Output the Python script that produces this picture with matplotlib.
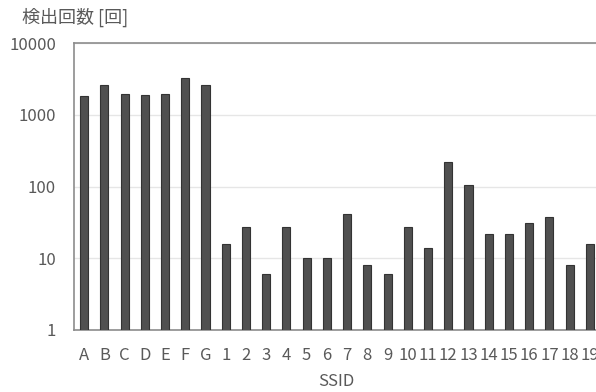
import numpy as np
import matplotlib.pyplot as plt

plt.rcParams['font.family'] = ['Noto Sans CJK JP', 'DejaVu Sans']

# SSID labels and detection counts
ssids = ['A', 'B', 'C', 'D', 'E', 'F', 'G'] + [str(i) for i in range(1, 20)]
counts = [1830, 2600, 1960, 1900, 1960, 3250, 2600,
          16, 27, 6, 27, 10, 10, 41, 8, 6, 27, 14, 220, 105, 22, 22, 31, 38, 8, 16]

fig = plt.figure(figsize=(5.96, 3.92), dpi=100)
ax = fig.add_axes([74 / 596, 1 - 330 / 392, 526 / 596, (330 - 43) / 392])

x = np.arange(len(ssids))
ax.bar(x, counts, width=0.4, color='#505050', edgecolor='#333333', linewidth=0.8, zorder=3)

ax.set_yscale('log')
ax.set_ylim(1, 10000)
ax.set_xlim(-0.5, len(ssids) - 0.5)
ax.set_yticks([1, 10, 100, 1000, 10000])
ax.set_yticklabels(['1', '10', '100', '1000', '10000'])
ax.minorticks_off()
ax.set_xticks(x)
ax.set_xticklabels(ssids)
ax.tick_params(axis='both', length=0, labelsize=12, colors='#595959')
ax.tick_params(axis='x', pad=12)
ax.tick_params(axis='y', pad=13)
ax.grid(axis='y', color='#e6e6e6', linewidth=1, zorder=0)

for side in ['left', 'top', 'bottom']:
    ax.spines[side].set_color('#8c8c8c')
    ax.spines[side].set_linewidth(1.2)
ax.spines['right'].set_visible(False)

fig.text(22 / 596, 1 - 17 / 392, '検出回数 [回]', fontsize=13, color='#595959', va='center', ha='left')
fig.text(336 / 596, 1 - 382 / 392, 'SSID', fontsize=12, color='#595959', va='center', ha='center')

fig.savefig('out.png', dpi=100)
